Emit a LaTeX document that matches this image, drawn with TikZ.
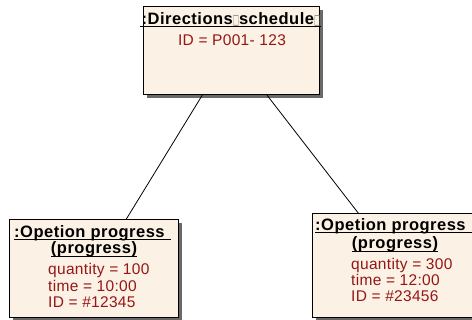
\documentclass[tikz,border=0pt]{standalone}
\usepackage{fontspec}
\setmainfont{Liberation Sans}
\newfontfamily\symfont{DejaVu Sans}
\usetikzlibrary{calc,shadows}
\definecolor{objfill}{RGB}{251,241,228}
\definecolor{attrred}{RGB}{150,22,22}
\definecolor{shadowgray}{RGB}{105,105,105}
% placeholder glyph shown for characters the font cannot set
\newcommand{\tofu}{{\symfont\color{gray}\scalebox{0.55}[1.15]{\fontsize{12pt}{12pt}\selectfont □}}}
\begin{document}
\begin{tikzpicture}[x=1pt,y=-1pt,
  objbox/.style={draw=black, line width=1.1pt, fill=objfill, rectangle,
    anchor=north west, inner sep=0pt,
    drop shadow={shadow xshift=3pt, shadow yshift=-3pt, fill=shadowgray, opacity=1}},
  titletext/.style={inner sep=0pt, anchor=base,
    font=\fontsize{16.5pt}{18pt}\selectfont\bfseries\addfontfeature{LetterSpace=3}},
  attrtext/.style={inner sep=0pt, anchor=base west, text=attrred,
    font=\fontsize{15.5pt}{16pt}\selectfont\addfontfeature{LetterSpace=2}},
  uline/.style={line width=0.9pt, black},
  link/.style={line width=0.8pt, black}]
\useasboundingbox (0,0) rectangle (472,320);
\fill[white] (0,0) rectangle (472,320);

% object boxes
\node[objbox, minimum width=176pt, minimum height=88pt] (sched) at (143,6) {};
\node[objbox, minimum width=169pt, minimum height=98pt] (progA) at (9,219) {};
\node[objbox, minimum width=170pt, minimum height=104pt] (progB) at (312,213) {};

% links between the objects
\draw[link] ($(sched.south west)!0.335!(sched.south east)$) -- ($(progA.north west)!0.69!(progA.north east)$);
\draw[link] ($(sched.south west)!0.70!(sched.south east)$) -- ($(progB.north west)!0.27!(progB.north east)$);

% schedule object
\node[titletext] (schedT) at (231,25) {:Directions\tofu schedule\tofu};
\draw[uline] ($(schedT.base west)+(-2,1.5)$) -- ($(schedT.base east)+(1,1.5)$);
\node[attrtext, anchor=base] (schedA) at (232,46) {ID = P001- 123};

% first progress object
\node[titletext, anchor=base west] (progAT1) at (14,238) {:Opetion progress};
\draw[uline] ($(progAT1.base west)+(0,1.5)$) -- ($(progAT1.base east)+(6,1.5)$);
\node[titletext] (progAT2) at (94,254) {(progress)};
\draw[uline] ($(progAT2.base west)+(0,2)$) -- ($(progAT2.base east)+(0,2)$);
\node[attrtext] (progA1) at (48,275) {quantity = 100};
\node[attrtext] (progA2) at (48,291.5) {time = 10:00};
\node[attrtext] (progA3) at (48,308) {ID = \#12345};

% second progress object
\node[titletext, anchor=base west] (progBT1) at (315,231) {:Opetion progress};
\draw[uline] ($(progBT1.base west)+(0,1.5)$) -- ($(progBT1.base east)+(10,1.5)$);
\node[titletext] (progBT2) at (395,249) {(progress)};
\draw[uline] ($(progBT2.base west)+(0,2)$) -- ($(progBT2.base east)+(0,2)$);
\node[attrtext] (progB1) at (351,270) {quantity = 300};
\node[attrtext] (progB2) at (351,286) {time = 12:00};
\node[attrtext] (progB3) at (351,302) {ID = \#23456};
\end{tikzpicture}
\end{document}
